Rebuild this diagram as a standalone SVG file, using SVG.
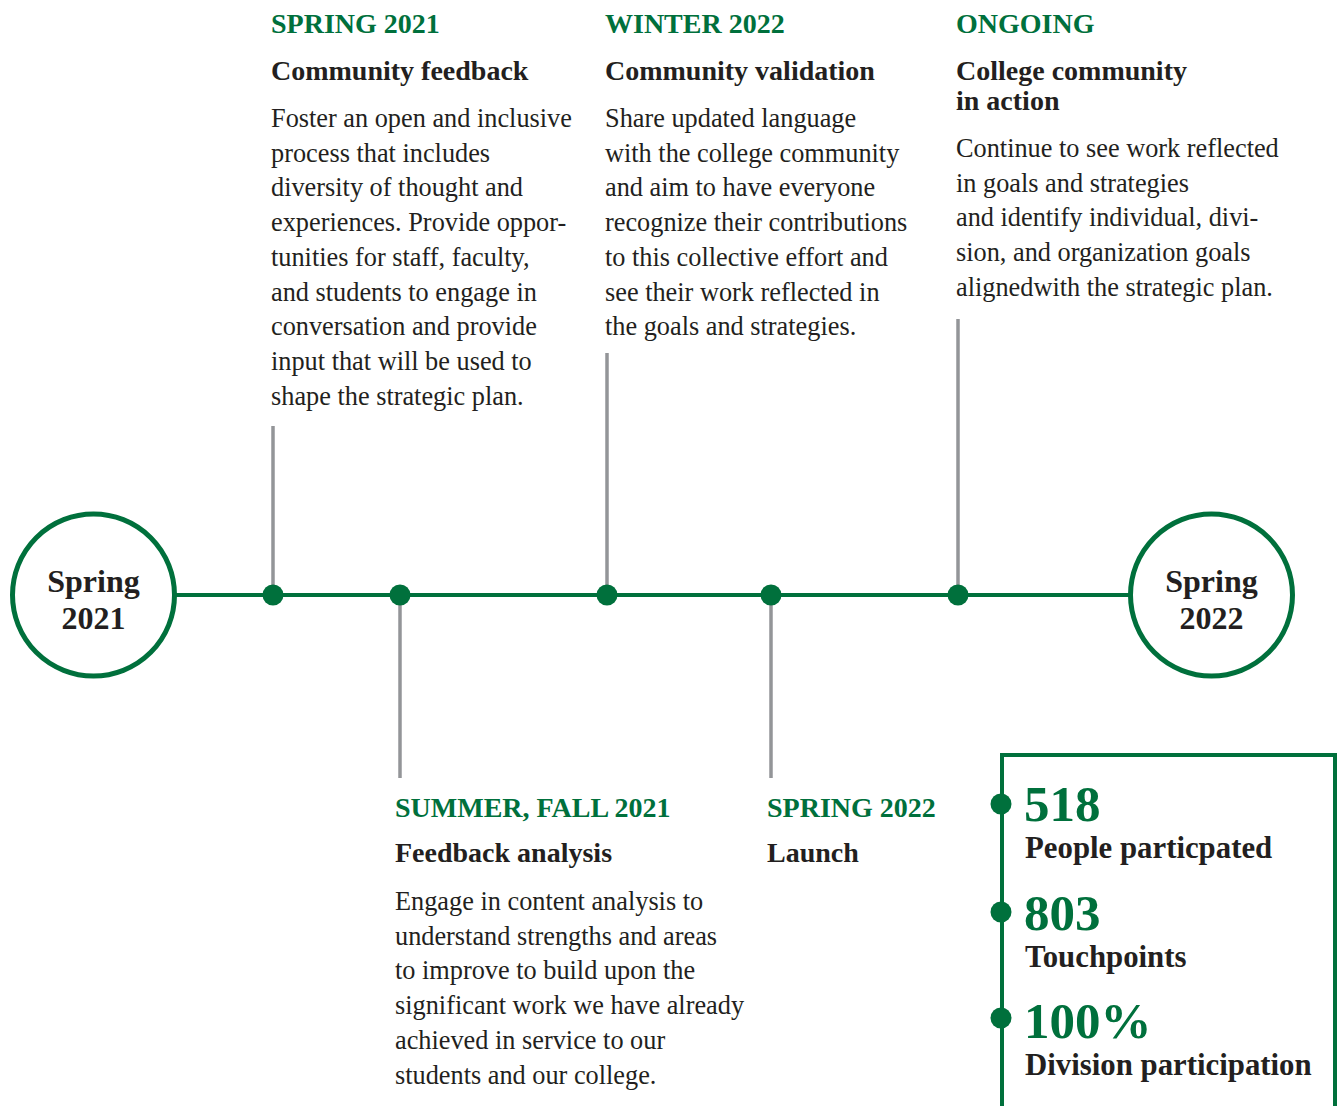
<svg xmlns="http://www.w3.org/2000/svg" width="1339" height="1106" viewBox="0 0 1339 1106">
<style>
text{font-family:"Liberation Serif","Times New Roman",serif;fill:#231F20}
.g{fill:#00703C;font-weight:bold;font-size:28px}
.t{font-weight:bold;font-size:28px}
.b{font-size:26.3px}
.c{font-weight:bold;font-size:32px;text-anchor:middle}
.n{fill:#00703C;font-weight:bold;font-size:51px}
.l{font-weight:bold;font-size:30.8px}
.stem{stroke:#939598;stroke-width:3.5;fill:none}
.dot{fill:#00703C}
.ring{fill:#fff;stroke:#00703C;stroke-width:5}
</style>
<rect width="1339" height="1106" fill="#fff"/>
<g id="connectors">
<line x1="176" y1="595" x2="1130" y2="595" stroke="#00703C" stroke-width="4"/>
<line class="stem" x1="273" y1="426" x2="273" y2="595"/>
<line class="stem" x1="400" y1="595" x2="400" y2="778"/>
<line class="stem" x1="607" y1="353" x2="607" y2="595"/>
<line class="stem" x1="771" y1="595" x2="771" y2="778"/>
<line class="stem" x1="958" y1="319" x2="958" y2="595"/>
<circle class="dot" cx="273" cy="595" r="10.5"/>
<circle class="dot" cx="400" cy="595" r="10.5"/>
<circle class="dot" cx="607" cy="595" r="10.5"/>
<circle class="dot" cx="771" cy="595" r="10.5"/>
<circle class="dot" cx="958" cy="595" r="10.5"/>
</g>
<g id="start">
<circle class="ring" cx="93.5" cy="595" r="81"/>
<text class="c" x="93.5" y="592">Spring</text>
<text class="c" x="93.5" y="629">2021</text>
</g>
<g id="end">
<circle class="ring" cx="1211.5" cy="595" r="81"/>
<text class="c" x="1211.5" y="592">Spring</text>
<text class="c" x="1211.5" y="629">2022</text>
</g>
<g id="m1">
<text class="g" x="271" y="33">SPRING 2021</text>
<text class="t" x="271" y="80">Community feedback</text>
<text class="b" x="271">
<tspan x="271" y="127">Foster an open and inclusive</tspan>
<tspan x="271" y="161.7">process that includes</tspan>
<tspan x="271" y="196.4">diversity of thought and</tspan>
<tspan x="271" y="231.1">experiences. Provide oppor-</tspan>
<tspan x="271" y="265.8">tunities for staff, faculty,</tspan>
<tspan x="271" y="300.5">and students to engage in</tspan>
<tspan x="271" y="335.2">conversation and provide</tspan>
<tspan x="271" y="369.9">input that will be used to</tspan>
<tspan x="271" y="404.6">shape the strategic plan.</tspan>
</text>
</g>
<g id="m2">
<text class="g" x="395" y="817">SUMMER, FALL 2021</text>
<text class="t" x="395" y="862">Feedback analysis</text>
<text class="b">
<tspan x="395" y="910">Engage in content analysis to</tspan>
<tspan x="395" y="944.7">understand strengths and areas</tspan>
<tspan x="395" y="979.4">to improve to build upon the</tspan>
<tspan x="395" y="1014.1">significant work we have already</tspan>
<tspan x="395" y="1048.8">achieved in service to our</tspan>
<tspan x="395" y="1083.5">students and our college.</tspan>
</text>
</g>
<g id="m3">
<text class="g" x="605" y="33">WINTER 2022</text>
<text class="t" x="605" y="80">Community validation</text>
<text class="b">
<tspan x="605" y="127">Share updated language</tspan>
<tspan x="605" y="161.7">with the college community</tspan>
<tspan x="605" y="196.4">and aim to have everyone</tspan>
<tspan x="605" y="231.1">recognize their contributions</tspan>
<tspan x="605" y="265.8">to this collective effort and</tspan>
<tspan x="605" y="300.5">see their work reflected in</tspan>
<tspan x="605" y="335.2">the goals and strategies.</tspan>
</text>
</g>
<g id="m4">
<text class="g" x="767" y="817">SPRING 2022</text>
<text class="t" x="767" y="862">Launch</text>
</g>
<g id="m5">
<text class="g" x="956" y="33">ONGOING</text>
<text class="t"><tspan x="956" y="80">College community</tspan><tspan x="956" y="110">in action</tspan></text>
<text class="b">
<tspan x="956" y="157">Continue to see work reflected</tspan>
<tspan x="956" y="191.7">in goals and strategies</tspan>
<tspan x="956" y="226.4">and identify individual, divi-</tspan>
<tspan x="956" y="261.1">sion, and organization goals</tspan>
<tspan x="956" y="295.8">alignedwith the strategic plan.</tspan>
</text>
</g>
<g id="stats">
<path d="M1002 1110 V755 H1335 V1110" fill="none" stroke="#00703C" stroke-width="4"/>
<circle class="dot" cx="1001" cy="804" r="10.5"/>
<circle class="dot" cx="1001" cy="912" r="10.5"/>
<circle class="dot" cx="1001" cy="1018" r="10.5"/>
<text class="n" x="1024" y="821">518</text>
<text class="l" x="1025" y="858">People particpated</text>
<text class="n" x="1024" y="930">803</text>
<text class="l" x="1025" y="967">Touchpoints</text>
<text class="n" x="1024" y="1038">100%</text>
<text class="l" x="1025" y="1075">Division participation</text>
</g>
</svg>
